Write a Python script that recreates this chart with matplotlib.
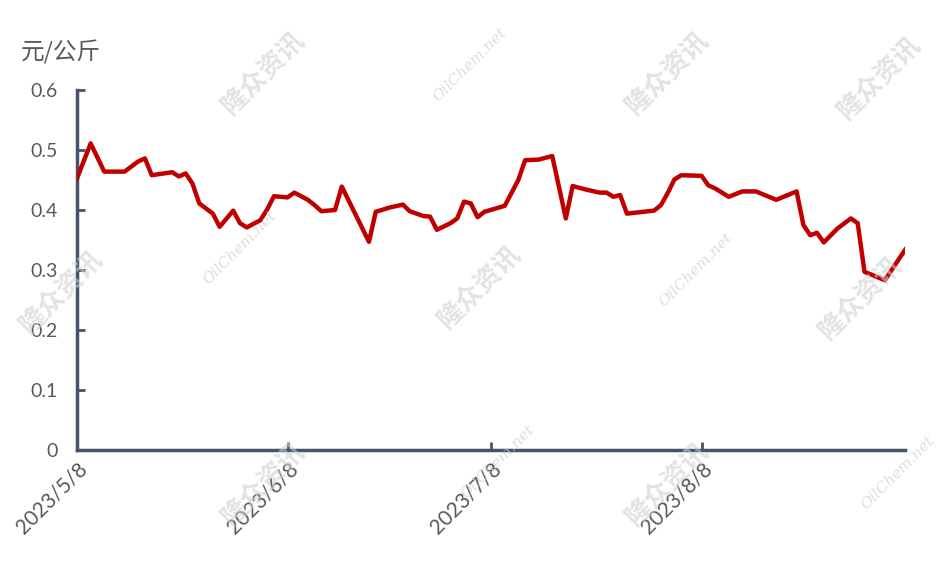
import numpy as np
import pandas as pd
import matplotlib.pyplot as plt
import matplotlib.dates as mdates

plt.rcParams['font.family'] = ['Noto Sans CJK SC', 'DejaVu Sans']

# price points (yuan / kg)
dates = ['2023-05-08', '2023-05-10', '2023-05-12', '2023-05-15', '2023-05-17', '2023-05-18',
         '2023-05-19', '2023-05-22', '2023-05-23', '2023-05-24', '2023-05-25', '2023-05-26',
         '2023-05-28', '2023-05-29', '2023-05-31', '2023-06-01', '2023-06-02', '2023-06-04',
         '2023-06-05', '2023-06-06', '2023-06-08', '2023-06-09', '2023-06-11', '2023-06-12',
         '2023-06-13', '2023-06-15', '2023-06-16', '2023-06-20', '2023-06-21', '2023-06-23',
         '2023-06-25', '2023-06-26', '2023-06-28', '2023-06-29', '2023-06-30', '2023-07-02',
         '2023-07-03', '2023-07-04', '2023-07-05', '2023-07-06', '2023-07-07', '2023-07-10',
         '2023-07-12', '2023-07-13', '2023-07-15', '2023-07-17', '2023-07-19', '2023-07-20',
         '2023-07-22', '2023-07-24', '2023-07-25', '2023-07-26', '2023-07-27', '2023-07-28',
         '2023-08-01', '2023-08-02', '2023-08-03', '2023-08-04', '2023-08-05', '2023-08-08',
         '2023-08-09', '2023-08-10', '2023-08-12', '2023-08-14', '2023-08-16', '2023-08-19',
         '2023-08-22', '2023-08-23', '2023-08-24', '2023-08-25', '2023-08-26', '2023-08-28',
         '2023-08-30', '2023-08-31', '2023-09-01', '2023-09-04', '2023-09-07']
prices = [0.453, 0.511, 0.464, 0.464, 0.481, 0.486,
          0.458, 0.463, 0.456, 0.461, 0.444, 0.411,
          0.394, 0.372, 0.399, 0.378, 0.371, 0.383,
          0.401, 0.423, 0.421, 0.429, 0.417, 0.408,
          0.398, 0.400, 0.439, 0.347, 0.397, 0.404,
          0.409, 0.398, 0.390, 0.389, 0.367, 0.378,
          0.386, 0.414, 0.411, 0.388, 0.397, 0.407,
          0.450, 0.483, 0.484, 0.490, 0.386, 0.440,
          0.434, 0.429, 0.429, 0.422, 0.425, 0.394,
          0.399, 0.408, 0.428, 0.451, 0.458, 0.457,
          0.441, 0.436, 0.422, 0.431, 0.431, 0.417,
          0.431, 0.375, 0.358, 0.362, 0.346, 0.369,
          0.386, 0.378, 0.297, 0.283, 0.334]
tick_dates = ['2023-05-08', '2023-06-08', '2023-07-08', '2023-08-08']
tick_labels = ['2023/5/8', '2023/6/8', '2023/7/8', '2023/8/8']
y_ticks = [0, 0.1, 0.2, 0.3, 0.4, 0.5, 0.6]

x = pd.to_datetime(dates)
axis_col = '#44546A'
txt_col = '#595959'

fig = plt.figure(figsize=(9.4, 5.63), dpi=100)
ax = fig.add_axes([0.082, 0.2007, 0.881, 0.6394])

ax.plot(x, prices, color='#C00000', lw=3.2, solid_joinstyle='round', zorder=3)

ax.set_xlim(x[0], x[-1])
ax.set_ylim(0, 0.6)
ax.set_yticks(y_ticks)
ax.set_yticklabels(['0', '0.1', '0.2', '0.3', '0.4', '0.5', '0.6'], fontfamily='Lato', fontsize=14)
ax.set_xticks(pd.to_datetime(tick_dates))
ax.set_xticklabels(tick_labels, rotation=45, ha='right', rotation_mode='anchor',
                   fontfamily='Lato', fontsize=15)

for s in ['top', 'right']:
    ax.spines[s].set_visible(False)
for s in ['left', 'bottom']:
    ax.spines[s].set_color(axis_col)
    ax.spines[s].set_linewidth(2.5)
ax.tick_params(axis='both', direction='in', color=axis_col, width=2, length=6,
               labelcolor=txt_col)
ax.tick_params(axis='y', pad=14)
ax.tick_params(axis='x', pad=6)

fig.text(0.022, 0.907, '元/公斤', fontsize=17, color=txt_col, ha='left', va='center')

# watermarks
wm_cn = [(0.28, 0.87), (0.71, 0.87), (0.065, 0.48), (0.51, 0.49), (0.915, 0.47),
         (0.28, 0.14), (0.71, 0.14), (0.935, 0.86)]
wm_en = [(0.5, 0.885), (0.255, 0.56), (0.74, 0.52), (0.53, 0.18), (0.955, 0.16)]
for px, py in wm_cn:
    fig.text(px, py, '隆众资讯', fontsize=19, fontweight='bold', color='#d0d0d0',
             alpha=0.6, rotation=45, ha='center', va='center', zorder=0)
for px, py in wm_en:
    fig.text(px, py, 'OilChem.net', fontsize=11, style='italic', family='DejaVu Serif',
             color='#d0d0d0', alpha=0.7, rotation=45, ha='center', va='center', zorder=0)

fig.savefig('out.png', dpi=100)
